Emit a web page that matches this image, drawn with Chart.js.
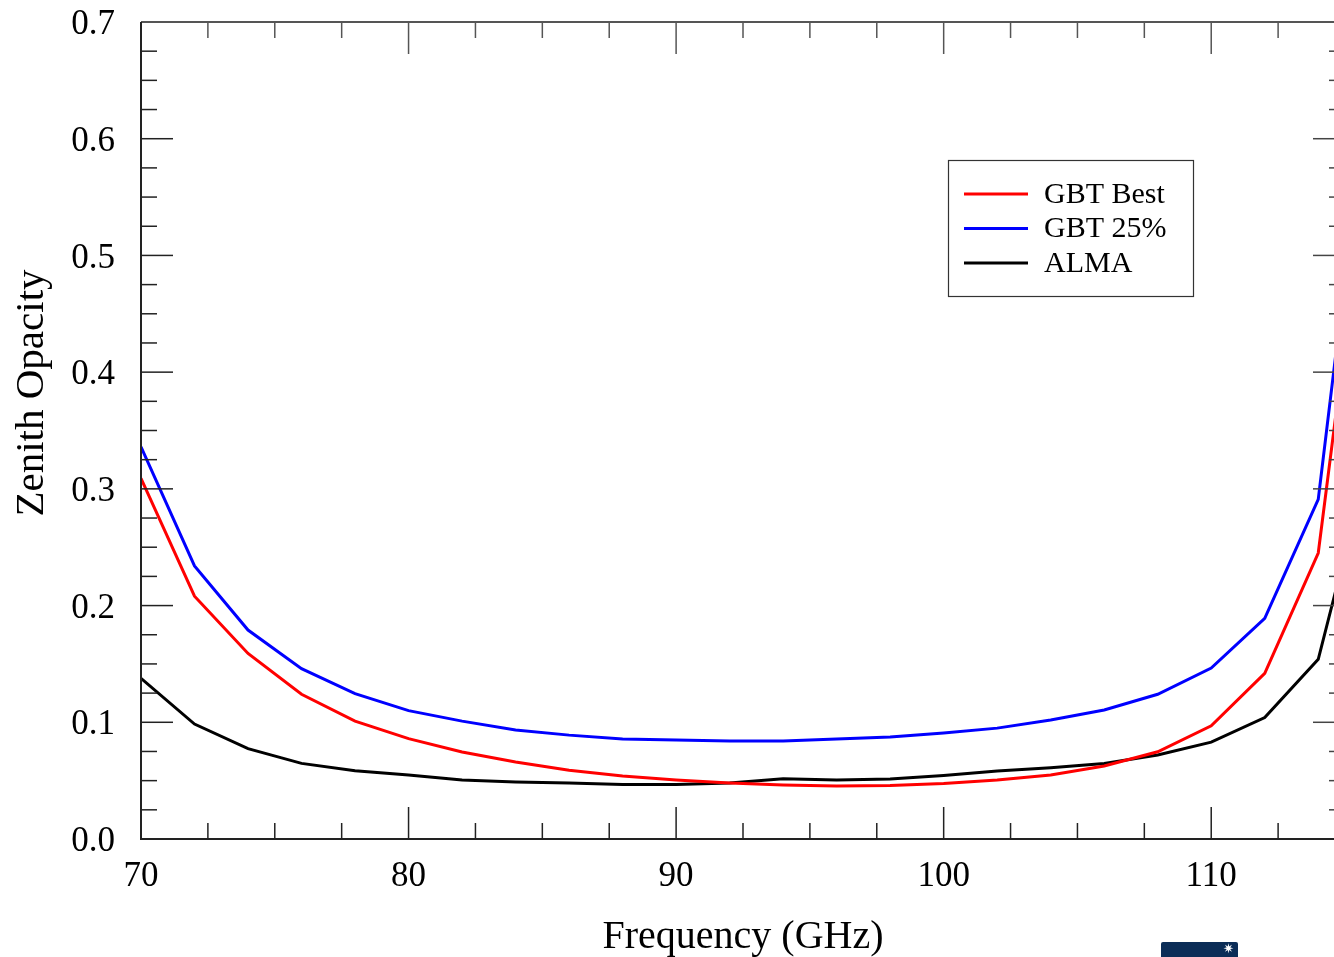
<!DOCTYPE html>
<html>
<head>
<meta charset="utf-8">
<script src="https://cdn.jsdelivr.net/npm/chart.js@4.4.1/dist/chart.umd.min.js"></script>
<style>
  html, body { margin: 0; padding: 0; background: #fff; overflow: hidden; }
  #wrap { position: relative; width: 1334px; height: 957px; overflow: hidden; }
  #opacidade { position: absolute; left: 0; top: 0; }
  .logo {
    position: absolute; left: 1161px; top: 942px; width: 77px; height: 20px;
    background: #0b2d57; border-radius: 2px; color: #fff; font: 13px sans-serif;
    text-align: right; padding-right: 4px; box-sizing: border-box; line-height: 14px;
  }
</style>
</head>
<body>
<div id="wrap">
  <canvas id="opacidade" width="1350" height="957"></canvas>
  <div class="logo">✷</div>
</div>
<script>
// frequências (GHz)
const frequencias = [70, 72, 74, 76, 78, 80, 82, 84, 86, 88, 90, 92, 94, 96, 98, 100, 102, 104, 106, 108, 110, 112, 114, 116];

// opacidade zenital por série
const gbtMelhor = [0.309, 0.208, 0.159, 0.124, 0.101, 0.086, 0.0745, 0.066, 0.059, 0.054, 0.0506, 0.048, 0.0463, 0.0454, 0.0458, 0.0476, 0.0506, 0.0548, 0.0625, 0.0747, 0.097, 0.142, 0.245, 0.605];
const gbt25 = [0.336, 0.234, 0.179, 0.146, 0.1245, 0.110, 0.101, 0.0934, 0.089, 0.0857, 0.0848, 0.084, 0.084, 0.0857, 0.0874, 0.0908, 0.095, 0.102, 0.1105, 0.124, 0.1465, 0.189, 0.291, 0.67];
const alma = [0.1377, 0.0985, 0.0774, 0.0648, 0.0585, 0.0548, 0.0506, 0.0488, 0.048, 0.0467, 0.0467, 0.048, 0.0517, 0.0505, 0.0514, 0.0544, 0.0583, 0.061, 0.0647, 0.072, 0.083, 0.104, 0.154, 0.334];

const rotulosX = [70, 80, 90, 100, 110];
const rotulosY = [0, 0.1, 0.2, 0.3, 0.4, 0.5, 0.6, 0.7];

const FONTE = "'Liberation Serif', 'Times New Roman', serif";

function serie(label, valores, cor) {
  return {
    label,
    data: frequencias.map((f, i) => ({ x: f, y: valores[i] })),
    borderColor: cor,
    backgroundColor: cor,
    borderWidth: 3,
    pointRadius: 0,
    tension: 0,
    fill: false
  };
}

// marcas internas nos quatro lados + moldura
const marcasEixos = {
  id: 'marcasEixos',
  afterDraw(chart) {
    const { ctx, chartArea: a, scales } = chart;
    const x = scales.x, y = scales.y;
    ctx.save();
    ctx.lineWidth = 1.5;

    const marcaX = (v, len) => {
      const px = x.getPixelForValue(v);
      ctx.strokeStyle = '#222';
      ctx.beginPath(); ctx.moveTo(px, a.bottom); ctx.lineTo(px, a.bottom - len); ctx.stroke();
      ctx.strokeStyle = '#555';
      ctx.beginPath(); ctx.moveTo(px, a.top); ctx.lineTo(px, a.top + len); ctx.stroke();
    };
    const marcaY = (v, len) => {
      const py = y.getPixelForValue(v);
      ctx.strokeStyle = '#222';
      ctx.beginPath(); ctx.moveTo(a.left, py); ctx.lineTo(a.left + len, py); ctx.stroke();
      ctx.strokeStyle = '#444';
      ctx.beginPath(); ctx.moveTo(a.right, py); ctx.lineTo(a.right - len, py); ctx.stroke();
    };

    for (let v = 70; v <= 115; v += 2.5) marcaX(v, v % 10 === 0 ? 32 : 16);
    for (let i = 0; i <= 28; i++) marcaY(i * 0.025, i % 4 === 0 ? 32 : 16);

    // moldura
    ctx.lineWidth = 2;
    ctx.strokeStyle = '#555';
    ctx.beginPath(); ctx.moveTo(a.left, a.top); ctx.lineTo(a.right, a.top); ctx.lineTo(a.right, a.bottom); ctx.stroke();
    ctx.strokeStyle = '#222';
    ctx.beginPath(); ctx.moveTo(a.left, a.top); ctx.lineTo(a.left, a.bottom); ctx.lineTo(a.right, a.bottom); ctx.stroke();

    // título do eixo Y
    ctx.fillStyle = '#000';
    ctx.font = '41px ' + FONTE;
    ctx.translate(32, 393);
    ctx.rotate(-Math.PI / 2);
    ctx.textAlign = 'center';
    ctx.textBaseline = 'middle';
    ctx.fillText('Zenith Opacity', 0, 0);
    ctx.restore();

    // legenda em caixa
    ctx.save();
    ctx.fillStyle = '#fff';
    ctx.fillRect(948, 160, 246, 137);
    ctx.strokeStyle = '#333';
    ctx.lineWidth = 1.2;
    ctx.strokeRect(948.5, 160.5, 245, 136);
    ctx.font = '30px ' + FONTE;
    ctx.textBaseline = 'middle';
    ctx.textAlign = 'left';
    chart.data.datasets.forEach((ds, i) => {
      const ly = 194 + i * 34.5;
      ctx.strokeStyle = ds.borderColor;
      ctx.lineWidth = 3;
      ctx.beginPath(); ctx.moveTo(964, ly); ctx.lineTo(1028, ly); ctx.stroke();
      ctx.fillStyle = '#000';
      ctx.fillText(ds.label, 1044, ly + 1);
    });
    ctx.restore();
  }
};

new Chart(document.getElementById('opacidade'), {
  type: 'line',
  data: {
    datasets: [
      serie('GBT Best', gbtMelhor, '#ff0000'),
      serie('GBT 25%', gbt25, '#0000ff'),
      serie('ALMA', alma, '#000000')
    ]
  },
  options: {
    responsive: false,
    animation: false,
    devicePixelRatio: 1,
    layout: { padding: { left: 0, top: 22, right: 5, bottom: 0 } },
    plugins: {
      legend: { display: false },
      tooltip: { enabled: false }
    },
    scales: {
      x: {
        type: 'linear',
        min: 70,
        max: 115,
        afterBuildTicks: s => { s.ticks = rotulosX.map(v => ({ value: v })); },
        afterFit: s => { s.height = 118; s.paddingLeft = 0; s.paddingRight = 0; },
        grid: { display: false },
        border: { display: false },
        ticks: {
          color: '#000',
          font: { family: FONTE, size: 35 },
          padding: 9,
          maxRotation: 0
        },
        title: {
          display: true,
          text: 'Frequency (GHz)',
          color: '#000',
          font: { family: FONTE, size: 40 },
          padding: { top: 15, bottom: -4 }
        }
      },
      y: {
        min: 0,
        max: 0.7,
        afterBuildTicks: s => { s.ticks = rotulosY.map(v => ({ value: v })); },
        afterFit: s => { s.width = 141; s.paddingTop = 0; s.paddingBottom = 0; },
        grid: { display: false },
        border: { display: false },
        ticks: {
          color: '#000',
          font: { family: FONTE, size: 35 },
          padding: 18,
          labelOffset: 3,
          callback: v => v.toFixed(1)
        }
      }
    }
  },
  plugins: [marcasEixos]
});
</script>
</body>
</html>
